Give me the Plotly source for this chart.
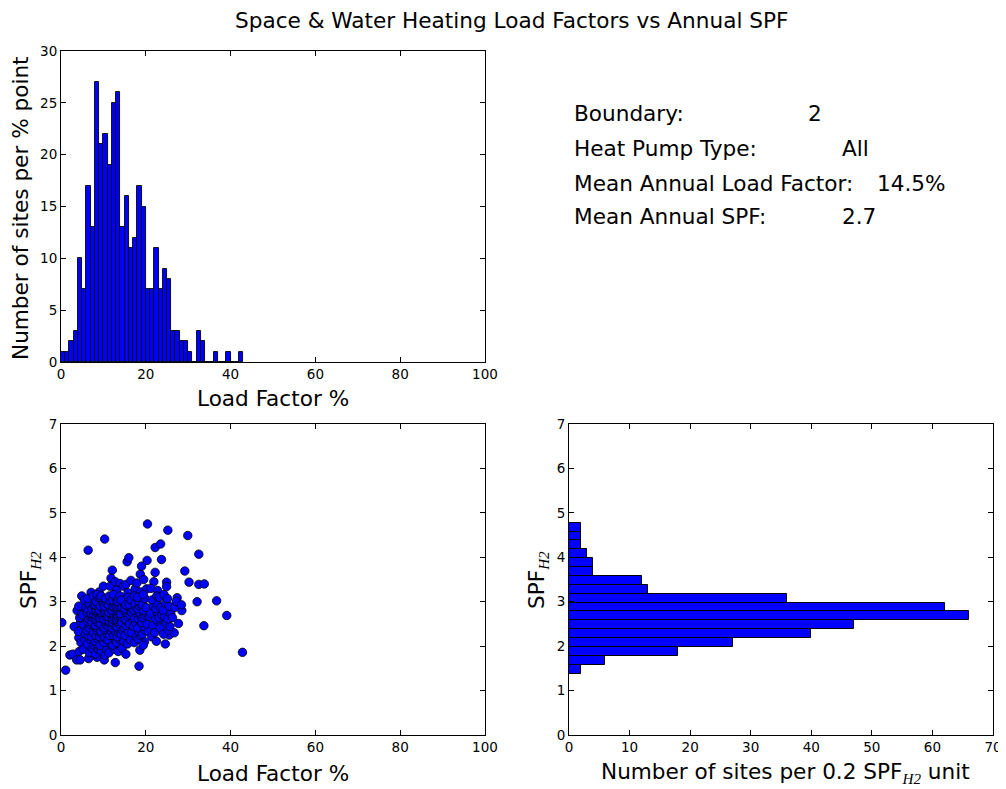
import plotly.graph_objects as go

# ---------------- data ----------------
# Histogram of annual load factor (% point bins starting at 0)
lf_bin_start = 0.0
lf_bin_width = 1.0
lf_counts = [1, 1, 2, 3, 10, 7, 17, 13, 27, 21, 22, 19, 25, 26, 13, 16, 11, 12, 17, 15,
             7, 7, 11, 7, 9, 8, 3, 3, 2, 2, 1, 0, 3, 2, 0, 0, 1, 0, 0, 1, 0, 0, 1]

# Histogram of SPF_H2 (0.2 unit bins, from bottom)
spf_bin_start = 1.38
spf_bin_width = 0.2
spf_counts = [2, 6, 18, 27, 40, 47, 66, 62, 36, 13, 12, 4, 4, 3, 2, 2, 2]

# Scatter: (load factor %, SPF_H2) per site
scatter_points = [
    # outlying / clearly visible points
    (0.2, 2.53), (1.1, 1.46), (2.1, 1.80), (2.8, 1.82), (3.1, 2.44), (3.7, 1.69), (3.8, 2.80),
    (4.2, 2.19), (4.5, 1.69), (4.9, 3.13), (6.4, 4.16), (6.5, 1.72), (7.1, 3.21), (8.5, 1.75),
    (9.0, 3.22), (10.3, 4.41), (10.0, 3.35), (10.2, 1.69), (11.8, 3.53), (11.6, 3.35), (12.1, 3.71),
    (12.8, 3.45), (12.8, 1.63), (13.9, 3.41), (13.1, 3.26), (14.7, 3.35), (15.6, 3.90), (15.3, 3.39),
    (15.8, 3.20), (16.0, 3.99), (16.5, 3.48), (17.5, 3.29), (17.9, 3.42), (18.7, 3.62), (18.4, 1.55),
    (18.8, 3.22), (19.0, 3.80), (19.7, 2.10), (19.5, 3.50), (20.4, 4.75), (20.3, 3.93), (20.2, 3.29),
    (21.9, 3.45), (21.2, 3.30), (22.2, 4.22), (22.2, 3.66), (22.8, 3.25), (23.5, 4.30), (23.7, 3.95),
    (24.9, 3.44), (24.9, 3.34), (25.2, 4.61), (25.5, 2.25), (26.7, 2.30), (27.4, 3.09), (27.7, 2.51),
    (28.5, 2.80), (29.9, 4.49), (29.2, 3.69), (30.2, 3.44), (32.5, 4.07), (32.5, 3.39), (32.1, 3.00),
    (33.7, 2.46), (33.8, 3.40), (36.7, 3.02), (39.1, 2.69), (42.8, 1.86),
    # dense cluster
    (4.3, 1.88), (4.7, 2.08), (4.1, 2.33), (4.6, 2.53), (4.4, 2.64), (4.9, 2.73), (4.2, 2.90),
    (5.2, 1.93), (5.6, 2.14), (5.8, 2.27), (5.4, 2.47), (5.1, 2.70), (5.9, 2.87), (5.5, 3.04),
    (6.7, 1.85), (6.2, 2.05), (6.9, 2.16), (6.4, 2.24), (6.1, 2.36), (6.6, 2.41), (6.8, 2.50),
    (6.3, 2.56), (6.5, 2.61), (6.9, 2.67), (6.2, 2.76), (6.4, 2.81), (6.8, 2.93), (6.6, 2.96),
    (6.3, 3.07),
    (7.4, 1.95), (7.8, 2.02), (7.2, 2.21), (7.6, 2.30), (7.9, 2.44), (7.3, 2.53), (7.5, 2.64),
    (7.1, 2.73), (7.7, 2.70), (7.3, 2.84), (7.8, 2.90), (7.6, 3.13),
    (8.2, 1.82), (8.8, 1.93), (8.4, 2.05), (8.1, 2.11), (8.7, 2.16), (8.3, 2.24), (8.9, 2.30),
    (8.5, 2.36), (8.6, 2.41), (8.2, 2.47), (8.8, 2.53), (8.4, 2.56), (8.1, 2.61), (8.5, 2.64),
    (8.9, 2.67), (8.3, 2.70), (8.7, 2.73), (8.6, 2.76), (8.2, 2.81), (8.4, 2.84), (8.8, 2.87),
    (8.1, 2.93), (8.6, 2.96), (8.3, 3.01), (8.7, 3.10), (8.5, 3.16),
    (9.5, 1.88), (9.2, 2.02), (9.8, 2.14), (9.1, 2.21), (9.6, 2.27), (9.4, 2.33), (9.7, 2.44),
    (9.3, 2.50), (9.9, 2.61), (9.2, 2.64), (9.5, 2.70), (9.8, 2.73), (9.4, 2.76), (9.1, 2.81),
    (9.6, 2.87), (9.3, 2.90), (9.9, 2.96), (9.7, 3.04), (9.2, 3.10), (9.5, 3.13),
    (10.4, 1.80), (10.8, 1.91), (10.1, 2.08), (10.6, 2.16), (10.3, 2.21), (10.9, 2.27), (10.5, 2.36),
    (10.2, 2.41), (10.7, 2.47), (10.4, 2.56), (10.1, 2.61), (10.6, 2.67), (10.8, 2.70), (10.3, 2.76),
    (10.5, 2.81), (10.9, 2.84), (10.2, 2.90), (10.7, 2.96), (10.5, 3.07),
    (11.3, 1.85), (11.7, 2.05), (11.1, 2.14), (11.5, 2.24), (11.9, 2.33), (11.2, 2.44), (11.6, 2.50),
    (11.4, 2.56), (11.8, 2.61), (11.1, 2.67), (11.5, 2.73), (11.3, 2.76), (11.7, 2.84), (11.9, 2.90),
    (11.2, 2.93), (11.6, 3.01), (11.4, 3.13),
    (12.6, 1.93), (12.2, 2.02), (12.9, 2.11), (12.4, 2.24), (12.7, 2.33), (12.1, 2.41), (12.5, 2.47),
    (12.3, 2.53), (12.8, 2.56), (12.2, 2.61), (12.6, 2.64), (12.9, 2.70), (12.4, 2.73), (12.7, 2.76),
    (12.1, 2.81), (12.5, 2.87), (12.3, 2.90), (12.8, 2.93), (12.6, 2.96), (12.2, 3.04), (12.9, 3.10),
    (12.4, 3.16),
    (13.5, 1.88), (13.1, 2.08), (13.8, 2.16), (13.3, 2.21), (13.6, 2.30), (13.9, 2.36), (13.2, 2.44),
    (13.7, 2.50), (13.4, 2.56), (13.1, 2.61), (13.5, 2.64), (13.8, 2.67), (13.3, 2.70), (13.6, 2.73),
    (13.9, 2.76), (13.2, 2.81), (13.4, 2.84), (13.7, 2.87), (13.1, 2.90), (13.5, 2.93), (13.8, 2.96),
    (13.3, 3.01), (13.6, 3.07), (13.9, 3.13),
    (14.4, 1.95), (14.8, 2.11), (14.2, 2.27), (14.6, 2.36), (14.9, 2.41), (14.3, 2.53), (14.5, 2.64),
    (14.1, 2.73), (14.7, 2.81), (14.4, 2.87), (14.9, 2.96), (14.2, 3.04),
    (15.3, 1.82), (15.7, 2.05), (15.1, 2.24), (15.9, 2.33), (15.4, 2.47), (15.6, 2.56), (15.2, 2.61),
    (15.8, 2.67), (15.5, 2.76), (15.1, 2.84), (15.7, 2.90), (15.3, 2.93), (15.9, 3.10),
    (16.4, 2.14), (16.7, 2.30), (16.2, 2.50), (16.9, 2.61), (16.3, 2.70), (16.6, 2.76), (16.8, 2.84),
    (16.1, 2.93), (16.5, 3.04),
    (17.3, 2.08), (17.8, 2.21), (17.1, 2.44), (17.6, 2.53), (17.4, 2.64), (17.9, 2.73), (17.2, 2.81),
    (17.7, 2.87), (17.5, 2.96), (17.3, 3.13),
    (18.6, 1.91), (18.2, 2.16), (18.8, 2.24), (18.4, 2.33), (18.1, 2.41), (18.7, 2.56), (18.3, 2.61),
    (18.9, 2.67), (18.5, 2.76), (18.2, 2.84), (18.6, 2.90), (18.8, 2.96), (18.4, 3.01), (18.1, 3.10),
    (19.4, 2.02), (19.2, 2.27), (19.8, 2.36), (19.6, 2.44), (19.1, 2.53), (19.3, 2.64), (19.7, 2.70),
    (19.9, 2.76), (19.5, 2.81), (19.2, 2.93), (19.8, 3.07), (19.4, 3.16),
    (20.6, 2.33), (20.3, 2.50), (20.8, 2.67), (20.1, 2.87),
    (21.4, 2.21), (21.7, 2.47), (21.2, 2.73), (21.8, 2.90), (21.5, 3.04),
    (22.5, 2.11), (22.1, 2.30), (22.8, 2.56), (22.3, 2.61), (22.7, 2.76), (22.4, 2.84), (22.9, 2.93),
    (22.6, 3.13),
    (23.4, 2.41), (23.1, 2.64), (23.8, 2.70), (23.5, 2.87), (23.2, 3.10),
    (24.6, 2.05), (24.2, 2.27), (24.8, 2.53), (24.4, 2.67), (24.1, 2.81), (24.7, 2.96), (24.3, 3.16),
    (25.3, 2.36), (25.7, 2.44), (25.2, 2.61), (25.9, 2.73), (25.5, 2.90), (25.1, 3.07),
    (26.3, 2.64), (26.8, 2.87), (27.2, 3.01), (28.4, 2.93),
]

info_labels = ["Boundary:", "Heat Pump Type:", "Mean Annual Load Factor:", "Mean Annual SPF:"]
info_values = ["2", "All", "14.5%", "2.7"]

title_text = "Space & Water Heating Load Factors vs Annual SPF"

# ---------------- derived ----------------
lf_centers = [lf_bin_start + (i + 0.5) * lf_bin_width for i in range(len(lf_counts))]
spf_centers = [spf_bin_start + (i + 0.5) * spf_bin_width for i in range(len(spf_counts))]
sc_x = [p[0] for p in scatter_points]
sc_y = [p[1] for p in scatter_points]

# The page body has an 8px margin, so the figure is drawn 8px in from the window edge.
OFF = 8
W, H = 1006 - OFF, 789 - OFF
FONT = "DejaVu Sans"


def px_x(px):
    return (px - OFF) / W


def px_y(py):
    return 1 - (py - OFF) / H


BLUE = "#0000ff"

fig = go.Figure()

fig.add_trace(go.Bar(
    x=lf_centers, y=lf_counts, width=lf_bin_width,
    marker=dict(color=BLUE, line=dict(color="black", width=0.9)),
    xaxis="x", yaxis="y", showlegend=False, hoverinfo="x+y"))

fig.add_trace(go.Scatter(
    x=sc_x, y=sc_y, mode="markers",
    marker=dict(color=BLUE, size=8.5, line=dict(color="black", width=0.8)),
    xaxis="x2", yaxis="y2", showlegend=False, cliponaxis=True))

fig.add_trace(go.Bar(
    y=spf_centers, x=spf_counts, width=spf_bin_width, orientation="h",
    marker=dict(color=BLUE, line=dict(color="black", width=1)),
    xaxis="x3", yaxis="y3", showlegend=False))

axis_common = dict(
    showline=True, linecolor="black", linewidth=1, mirror="allticks",
    ticks="inside", ticklen=5, tickcolor="black", tickwidth=1,
    showgrid=False, zeroline=False,
    tickfont=dict(family=FONT, size=13.5, color="black"),
    automargin=False, fixedrange=True,
)

x_left = [px_x(61), px_x(485)]
x_right = [px_x(569), px_x(993)]
y_top = [px_y(362), px_y(51)]
y_bot = [px_y(735), px_y(424)]

fig.update_layout(
    width=W, height=H,
    margin=dict(l=0, r=0, t=0, b=0, autoexpand=False),
    paper_bgcolor="white", plot_bgcolor="white",
    font=dict(family=FONT, color="black"),
    bargap=0,
    xaxis=dict(domain=x_left, range=[0, 100], dtick=20, anchor="y", **axis_common),
    yaxis=dict(domain=y_top, range=[0, 30], dtick=5, anchor="x", **axis_common),
    xaxis2=dict(domain=x_left, range=[0, 100], dtick=20, anchor="y2", **axis_common),
    yaxis2=dict(domain=y_bot, range=[0, 7], dtick=1, anchor="x2", **axis_common),
    xaxis3=dict(domain=x_right, range=[0, 70], dtick=10, anchor="y3", **axis_common),
    yaxis3=dict(domain=y_bot, range=[0, 7], dtick=1, anchor="x3", **axis_common),
)

ann = []
LBL = 21.6
spf_lbl = "SPF<sub><span style='font-family:Liberation Serif;font-style:italic'>H2</span></sub>"


def add_text(text, x, y, xanchor="center", angle=0):
    ann.append(dict(text=text, x=px_x(x), y=px_y(y), xref="paper", yref="paper",
                    showarrow=False, xanchor=xanchor, yanchor="middle", textangle=angle,
                    font=dict(family=FONT, size=LBL, color="black")))


add_text(title_text, 512, 20)
add_text("Load Factor %", 273, 398)
add_text("Load Factor %", 273, 773)
add_text("Number of sites per % point", 21, 208, angle=-90)
add_text(spf_lbl, 30, 580, angle=-90)
add_text(spf_lbl, 538, 580, angle=-90)
add_text("Number of sites per 0.2 " + spf_lbl + " unit", 785, 773)

row_y = [113, 148, 183, 217]
val_x = [806, 840, 875, 840]
for lab, val, ry, vx in zip(info_labels, info_values, row_y, val_x):
    add_text(lab, 572, ry, xanchor="left")
    add_text(val, vx, ry, xanchor="left")

fig.update_layout(annotations=ann)

fig.write_html("out.html")
